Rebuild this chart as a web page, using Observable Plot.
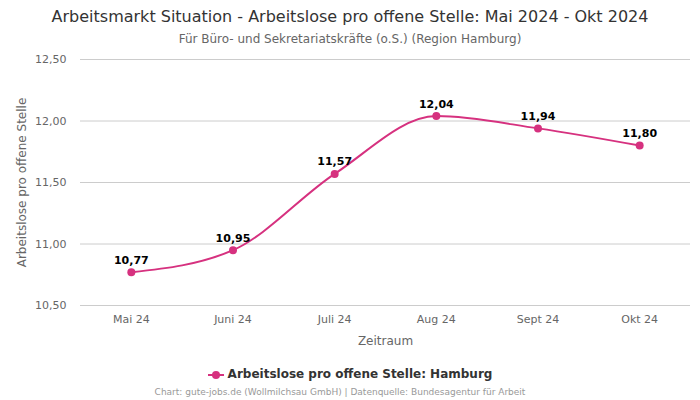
<!DOCTYPE html>
<html>
<head>
<meta charset="utf-8">
<script src="https://cdn.jsdelivr.net/npm/d3@7"></script>
<script src="https://cdn.jsdelivr.net/npm/@observablehq/plot@0.6"></script>
<style>
  body { margin: 0; background: #fff; font-family: "DejaVu Sans", sans-serif; }
  #wrap { width: 700px; height: 400px; position: relative; overflow: hidden; }
  .title { position: absolute; top: 7px; width: 700px; text-align: center; font-size: 16px; color: #333; }
  .subtitle { position: absolute; top: 32px; width: 700px; text-align: center; font-size: 12px; color: #666; }
  #chart { position: absolute; top: 50px; left: 0; }
  .legend { position: absolute; top: 367px; width: 700px; text-align: center; font-size: 12px; font-weight: bold; color: #333; }
  .legend svg { vertical-align: middle; margin-right: 4px; }
  .caption { position: absolute; top: 387px; left: -10px; width: 700px; text-align: center; font-size: 9px; color: #999; }
</style>
</head>
<body>
<div id="wrap">
  <div class="title">Arbeitsmarkt Situation - Arbeitslose pro offene Stelle: Mai 2024 - Okt 2024</div>
  <div class="subtitle">Für Büro- und Sekretariatskräfte (o.S.) (Region Hamburg)</div>
  <div id="chart"></div>
  <div class="legend"><svg width="16" height="10"><line x1="0" y1="5" x2="16" y2="5" stroke="#d6317f" stroke-width="2"/><circle cx="8" cy="5" r="4" fill="#d6317f"/></svg>Arbeitslose pro offene Stelle: Hamburg</div>
  <div class="caption">Chart: gute-jobs.de (Wollmilchsau GmbH) | Datenquelle: Bundesagentur für Arbeit</div>
</div>
<script>
const months = ["Mai 24", "Juni 24", "Juli 24", "Aug 24", "Sept 24", "Okt 24"];
const values = [10.77, 10.95, 11.57, 12.04, 11.94, 11.80];
const yTicks = [10.5, 11, 11.5, 12, 12.5];

const data = months.map((m, i) => ({month: m, value: values[i]}));
const fmt = d => d.toFixed(2).replace(".", ",");
const color = "#d6317f";

const chart = Plot.plot({
  width: 700,
  height: 300,
  marginTop: 9,
  marginBottom: 45,
  marginLeft: 80,
  marginRight: 10,
  style: {fontFamily: "DejaVu Sans, sans-serif", fontSize: "11px", color: "#666", background: "#fff"},
  x: {type: "point", domain: months, padding: 0.5, round: false, label: null},
  y: {domain: [10.5, 12.5], label: null},
  marks: [
    Plot.gridY(yTicks, {stroke: "#ccc", strokeOpacity: 1}),
    Plot.axisY(yTicks, {tickSize: 0, tickPadding: 14, tickFormat: fmt, fill: "#666", fontSize: 11}),
    Plot.axisX({tickSize: 0, tickPadding: 10, fill: "#666", fontSize: 11}),
    Plot.text(["Arbeitslose pro offene Stelle"], {frameAnchor: "left", textAnchor: "middle", dx: -58, rotate: -90, fill: "#666", fontSize: 12}),
    Plot.text(["Zeitraum"], {frameAnchor: "bottom", dy: 39, fill: "#666", fontSize: 12}),
    Plot.line(data, {x: "month", y: "value", stroke: color, strokeWidth: 2, curve: "monotone-x"}),
    Plot.dot(data, {x: "month", y: "value", fill: color, r: 4}),
    Plot.text(data, {x: "month", y: "value", text: d => fmt(d.value), dy: -12, fill: "#000", fontWeight: "bold", fontSize: 11})
  ]
});
document.getElementById("chart").appendChild(chart);
</script>
</body>
</html>
